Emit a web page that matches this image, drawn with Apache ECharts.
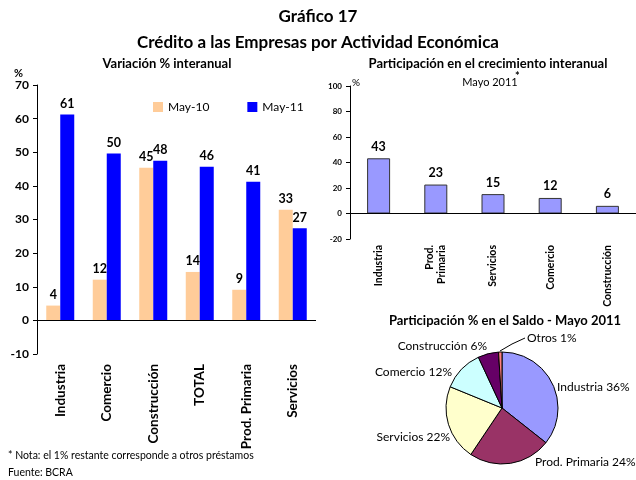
<!DOCTYPE html>
<html><head><meta charset="utf-8">
<script src="https://cdn.jsdelivr.net/npm/echarts@6/dist/echarts.min.js"></script>
<style>html,body{margin:0;padding:0;background:#fff}#c{width:636px;height:480px}</style>
</head><body><div id="c"></div>
<script>
var FONT = 'Lato';
var catsLeft = ['Industria','Comercio','Construcción','TOTAL','Prod. Primaria','Servicios'];
var may10 = [4.4, 12.1, 45.4, 14.4, 9.1, 32.9];
var may11 = [61.2, 49.6, 47.5, 45.7, 41.2, 27.4];
var leftTicks = [-10, 0, 10, 20, 30, 40, 50, 60, 70];

var catsRight = ['Industria','Prod.\nPrimaria','Servicios','Comercio','Construcción'];
var partic = [43.3, 22.7, 15.2, 12.2, 6.0];
var rightTicks = [-20, 0, 20, 40, 60, 80, 100];

var pieNames = ['Industria','Prod. Primaria','Servicios','Comercio','Construcción','Otros'];
var pieValues = [36, 24, 22, 12, 6, 1];
var pieColors = ['#9999ff','#993366','#ffffcc','#ccffff','#660066','#ff8080'];

// label placement for pie (layout, not data)
var pieLabelPos = [
  {x:557, y:387, align:'left'},
  {x:535, y:462, align:'left'},
  {x:450, y:437, align:'right'},
  {x:452, y:372, align:'right'},
  {x:487, y:346, align:'right'},
  {x:527, y:338, align:'left'}
];

var chart = echarts.init(document.getElementById('c'));
var zeroLine = {silent:true, symbol:'none', label:{show:false}, lineStyle:{color:'#000', type:'solid', width:1}, data:[{yAxis:0}]};
var option = {
  animation:false,
  textStyle:{fontFamily:FONT},
  graphic:[
    {type:'text', left:'center', top:8, style:{text:'Gráfico 17', font:'bold 17px '+FONT, fill:'#000'}},
    {type:'text', left:'center', top:34, style:{text:'Crédito a las Empresas por Actividad Económica', font:'bold 17px '+FONT, fill:'#000'}},
    {type:'text', x:167, y:57, style:{text:'Variación % interanual', font:'bold 13px '+FONT, fill:'#000', align:'center'}},
    {type:'text', x:488, y:57, style:{text:'Participación en el crecimiento interanual', font:'bold 13px '+FONT, fill:'#000', align:'center'}},
    {type:'text', x:490, y:77, style:{text:'Mayo 2011', font:'11px '+FONT, fill:'#000', align:'center'}},
    {type:'text', x:515, y:71, style:{text:'*', font:'bold 11px '+FONT, fill:'#000'}},
    {type:'text', x:352, y:78, style:{text:'%', font:'10px '+FONT, fill:'#000'}},
    {type:'text', x:14, y:68, style:{text:'%', font:'bold 11px '+FONT, fill:'#000'}},
    {type:'text', x:505, y:314, style:{text:'Participación % en el Saldo - Mayo 2011', font:'bold 13px '+FONT, fill:'#000', align:'center'}},
    {type:'text', x:8, y:450, style:{text:'* Nota: el 1% restante corresponde a otros préstamos', font:'10.5px '+FONT, fill:'#000'}},
    {type:'text', x:8, y:467, style:{text:'Fuente: BCRA', font:'10.5px '+FONT, fill:'#000'}}
  ],
  legend:{left:148, top:96, itemWidth:10, itemHeight:10, itemGap:38, icon:'rect',
    textStyle:{fontSize:12, fontFamily:FONT, color:'#000'}, data:['May-10','May-11']},
  grid:[
    {left:37, top:85, right:320, bottom:126},
    {left:350, top:86, right:0, bottom:241}
  ],
  xAxis:[
    {type:'category', gridIndex:0, data:catsLeft, axisLine:{show:false, onZero:false}, axisTick:{show:false},
      axisLabel:{rotate:90, interval:0, fontWeight:'bold', fontSize:13.5, color:'#000', fontFamily:FONT, margin:10}},
    {type:'category', gridIndex:1, data:catsRight, axisLine:{show:false, onZero:false}, axisTick:{show:false},
      axisLabel:{rotate:90, interval:0, fontWeight:'bold', fontSize:10.5, color:'#000', fontFamily:FONT, margin:6, lineHeight:12}}
  ],
  yAxis:[
    {type:'value', gridIndex:0, min:leftTicks[0], max:leftTicks[leftTicks.length-1], interval:10,
      axisLine:{show:true, lineStyle:{color:'#000'}}, axisTick:{show:true, length:4, lineStyle:{color:'#000'}},
      splitLine:{show:false}, axisLabel:{fontWeight:'bold', fontSize:12, color:'#000', fontFamily:FONT, margin:8}},
    {type:'value', gridIndex:1, min:rightTicks[0], max:rightTicks[rightTicks.length-1], interval:20,
      axisLine:{show:true, lineStyle:{color:'#000'}}, axisTick:{show:true, length:4, lineStyle:{color:'#000'}},
      splitLine:{show:false}, axisLabel:{fontWeight:'bold', fontSize:8, color:'#000', fontFamily:FONT, margin:8}}
  ],
  series:[
    {name:'May-10', type:'bar', xAxisIndex:0, yAxisIndex:0, data:may10, barWidth:14, barGap:'0%',
      itemStyle:{color:'#ffcc99'},
      label:{show:true, position:'top', fontWeight:'bold', fontSize:12.5, color:'#000', fontFamily:FONT, distance:4,
        formatter:function(p){return Math.round(p.value);}},
      markLine:zeroLine},
    {name:'May-11', type:'bar', xAxisIndex:0, yAxisIndex:0, data:may11, barWidth:14, barGap:'0%',
      itemStyle:{color:'#0000ff'},
      label:{show:true, position:'top', fontWeight:'bold', fontSize:12.5, color:'#000', fontFamily:FONT, distance:4,
        formatter:function(p){return Math.round(p.value);}}},
    {name:'Part', type:'bar', xAxisIndex:1, yAxisIndex:1, data:partic, barWidth:23,
      itemStyle:{color:'#9999ff', borderColor:'#333', borderWidth:1},
      label:{show:true, position:'top', fontWeight:'bold', fontSize:12.5, color:'#000', fontFamily:FONT, distance:5,
        formatter:function(p){return Math.round(p.value);}},
      markLine:zeroLine},
    {name:'Saldo', type:'pie', center:[502,408], radius:56, startAngle:90, clockwise:true,
      itemStyle:{borderColor:'#000', borderWidth:1},
      label:{show:true, position:'outside', fontSize:12, color:'#000', fontFamily:FONT, formatter:'{b} {c}%',
        overflow:'none', width:200, edgeDistance:0},
      labelLine:{show:false},
      labelLayout:function(p){
        var pos = pieLabelPos[p.dataIndex];
        var r = {x:pos.x, y:pos.y, align:pos.align, verticalAlign:'middle', width:200};
        if (pieNames[p.dataIndex] === 'Otros') {
          r.labelLinePoints = [[500,351],[512,344],[525,338]];
        }
        return r;
      },
      data:pieNames.map(function(n,i){
        var d = {name:n, value:pieValues[i], itemStyle:{color:pieColors[i]}};
        if(n==='Otros'){ d.labelLine = {show:true, lineStyle:{color:'#000', width:1}}; }
        return d;
      })}
  ]
};
chart.setOption(option);
</script></body></html>
